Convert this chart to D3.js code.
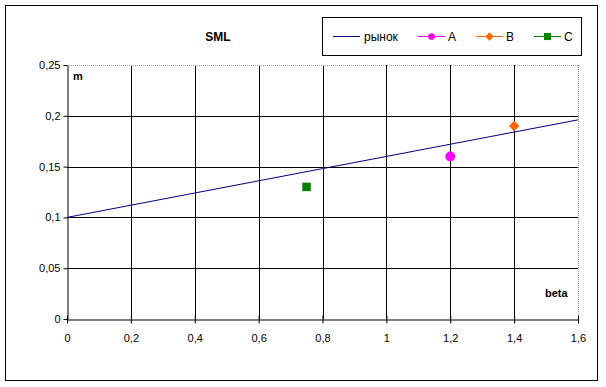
<!DOCTYPE html>
<html>
<head>
<meta charset="utf-8">
<script src="https://cdn.jsdelivr.net/npm/d3@7"></script>
<style>
body{margin:0;background:#fff;}
text{font-family:"Liberation Sans",Arial,sans-serif;}
</style>
</head>
<body>
<svg id="chart" width="606" height="387"></svg>
<script>
// данные
var marketBeta = [0, 0.4, 0.8, 1.2, 1.6];
var marketM = [0.1, 0.124, 0.148, 0.172, 0.196];
var assetNames = ["A", "B", "C"];
var assetBeta = [1.2, 1.4, 0.75];
var assetM = [0.16, 0.19, 0.13];
var assetColors = ["#ff00ff", "#ff6600", "#008000"];
var assetShapes = [d3.symbolCircle, d3.symbolSquare, d3.symbolSquare];
var assetRot = [0, 45, 0];
var xTicks = [0, 0.2, 0.4, 0.6, 0.8, 1, 1.2, 1.4, 1.6];
var yTicks = [0, 0.05, 0.1, 0.15, 0.2, 0.25];

var svg = d3.select("#chart");
var fmt = function(d){ return String(d).replace(".", ","); };

// рамка
svg.append("rect").attr("x",5.5).attr("y",5.5).attr("width",592).attr("height",375)
  .attr("fill","none").attr("stroke","#000").attr("stroke-width",1);

var x = d3.scaleLinear().domain([0,1.6]).range([67,578]);
var y = d3.scaleLinear().domain([0,0.25]).range([319,65]);

// сетка
svg.append("g").selectAll("line").data(xTicks.slice(1,-1)).enter().append("line")
  .attr("x1",function(d){return Math.round(x(d))+0.5;})
  .attr("x2",function(d){return Math.round(x(d))+0.5;})
  .attr("y1",y(0.25)).attr("y2",y(0)).attr("stroke","#000");
svg.append("g").selectAll("line").data(yTicks.slice(1,-1)).enter().append("line")
  .attr("y1",function(d){return Math.round(y(d))+0.5;})
  .attr("y2",function(d){return Math.round(y(d))+0.5;})
  .attr("x1",x(0)).attr("x2",x(1.6)).attr("stroke","#000");
// граница области
svg.append("line").attr("x1",x(0)).attr("x2",x(1.6)).attr("y1",y(0.25)+0.5).attr("y2",y(0.25)+0.5)
  .attr("stroke","#999").attr("stroke-dasharray","1,1");
svg.append("line").attr("x1",x(1.6)+0.5).attr("x2",x(1.6)+0.5).attr("y1",y(0.25)).attr("y2",y(0))
  .attr("stroke","#999").attr("stroke-dasharray","1,1");

// оси
var xAxis = svg.append("g").attr("transform","translate(0,"+(Math.round(y(0))+0.5)+")")
  .call(d3.axisBottom(x).tickValues(xTicks).tickFormat(fmt).tickSizeInner(4).tickSizeOuter(0));
var yAxis = svg.append("g").attr("transform","translate("+(Math.round(x(0))+0.5)+",0)")
  .call(d3.axisLeft(y).tickValues(yTicks).tickFormat(fmt).tickSizeInner(4).tickSizeOuter(0));
xAxis.selectAll("text").attr("y",15).attr("font-size","11px").attr("fill","#000");
xAxis.selectAll("line").attr("y1",-4).attr("y2",4);
yAxis.selectAll("text").attr("x",-7).attr("font-size","11px").attr("fill","#000");
svg.selectAll(".domain").attr("stroke","#000");
svg.selectAll(".tick line").attr("stroke","#000");

// линия рынка
var line = d3.line().x(function(d,i){return x(d);}).y(function(d,i){return y(marketM[i]);});
svg.append("path").datum(marketBeta).attr("d",line).attr("fill","none")
  .attr("stroke","#000080").attr("stroke-width",1);

// активы
svg.selectAll(".asset").data(assetNames).enter().append("path")
  .attr("class","asset")
  .attr("transform",function(d,i){return "translate("+x(assetBeta[i])+","+y(assetM[i])+") rotate("+assetRot[i]+")";})
  .attr("d",function(d,i){return d3.symbol().type(assetShapes[i]).size(i==0?75:(i==1?55:72))();})
  .attr("fill",function(d,i){return assetColors[i];});

// подписи
svg.append("text").attr("x",218).attr("y",41).attr("text-anchor","middle")
  .attr("font-weight","bold").attr("font-size","12px").text("SML");
svg.append("text").attr("x",73).attr("y",80).attr("font-weight","bold").attr("font-size","11px").text("m");
svg.append("text").attr("x",545).attr("y",297).attr("font-weight","bold").attr("font-size","11px").text("beta");

// легенда
var lg = svg.append("g");
lg.append("rect").attr("x",322.5).attr("y",17.5).attr("width",259).attr("height",38)
  .attr("fill","#fff").attr("stroke","#000");
lg.append("line").attr("x1",333).attr("x2",360).attr("y1",36.5).attr("y2",36.5).attr("stroke","#000080");
lg.append("text").attr("x",364).attr("y",41).attr("font-size","12px").text("рынок");
var lx = [418, 476, 534];
assetNames.forEach(function(n,i){
  lg.append("line").attr("x1",lx[i]).attr("x2",lx[i]+27).attr("y1",36.5).attr("y2",36.5).attr("stroke",assetColors[i]);
  lg.append("path").attr("transform","translate("+(lx[i]+13.5)+",36.5) rotate("+assetRot[i]+")")
    .attr("d",d3.symbol().type(assetShapes[i]).size(i==2?50:35)()).attr("fill",assetColors[i]);
  lg.append("text").attr("x",lx[i]+30).attr("y",41).attr("font-size","12px").text(n);
});
</script>
</body>
</html>
